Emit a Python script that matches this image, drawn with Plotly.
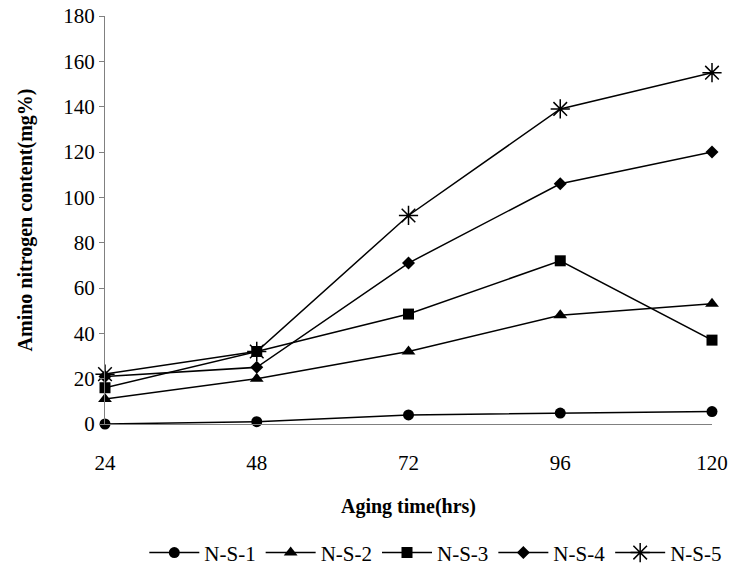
import plotly.graph_objects as go

aging_hrs = ["24", "48", "72", "96", "120"]
ns1 = [0, 1, 4, 4.8, 5.5]
ns2 = [11, 20, 32, 48, 53]
ns3 = [16, 32, 48.5, 72, 37]
ns4 = [21, 25, 71, 106, 120]
ns5 = [22, 32, 92, 139, 155]
series_names = ["N-S-1", "N-S-2", "N-S-3", "N-S-4", "N-S-5"]
y_ticks = [0, 20, 40, 60, 80, 100, 120, 140, 160, 180]

FONT = "Liberation Serif"

markers = [
    dict(symbol="circle", size=11),
    dict(symbol="triangle-up", size=12),
    dict(symbol="square", size=11),
    dict(symbol="diamond", size=10),
    dict(symbol="asterisk-open", size=16, line=dict(width=1.5, color="black")),
]

fig = go.Figure()
xs = list(range(len(aging_hrs)))
for name, ys, mk in zip(series_names, [ns1, ns2, ns3, ns4, ns5], markers):
    m = dict(color="black", **mk)
    fig.add_trace(go.Scatter(
        x=xs, y=ys, name=name, mode="lines+markers",
        line=dict(color="black", width=1.5),
        marker=m, cliponaxis=False,
    ))

fig.update_layout(
    width=747, height=578,
    margin=dict(l=105, r=35, t=16, b=154, autoexpand=False),
    paper_bgcolor="white", plot_bgcolor="white",
    font=dict(family=FONT, color="black", size=21),
    showlegend=True,
    legend=dict(orientation="h", x=0.545, xanchor="center", y=-0.316, yanchor="middle",
                font=dict(size=21, family=FONT), itemwidth=50, tracegroupgap=0),
)
fig.update_xaxes(
    range=[0, 4], tickvals=xs, ticktext=aging_hrs, automargin=False,
    showgrid=False, zeroline=False, showline=True, linecolor="#808080", linewidth=1,
    ticks="", ticklabelstandoff=20,
    title=dict(text="<b>Aging time(hrs)</b>", font=dict(size=20, family=FONT), standoff=24),
)
fig.update_yaxes(
    range=[0, 180], tickvals=y_ticks, automargin=False,
    showgrid=False, zeroline=False, showline=True, linecolor="#808080", linewidth=1,
    ticks="outside", ticklen=5, tickcolor="#808080",
    title=dict(text="<b>Amino nitrogen content(mg%)</b>", font=dict(size=20, family=FONT), standoff=25),
)

fig.write_html("out.html", config={"displayModeBar": False},
               post_script="document.body.style.margin='0';document.body.style.overflow='hidden';")
